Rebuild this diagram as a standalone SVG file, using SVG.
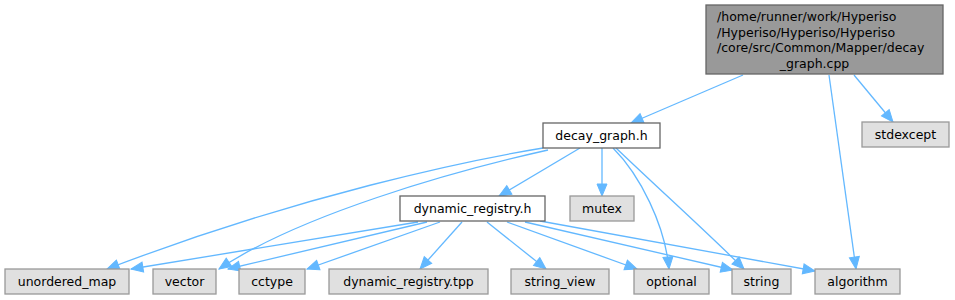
<svg xmlns="http://www.w3.org/2000/svg" width="955" height="300" viewBox="0 0 955 300">
<defs>
<style>
text{font-family:"DejaVu Sans","Liberation Sans",sans-serif;font-size:12.5px;fill:#000;text-anchor:middle}
text.l{text-anchor:start}
.main rect{fill:#999999;stroke:#666666;stroke-width:1.3}
.hdr rect{fill:#ffffff;stroke:#666666;stroke-width:1.3}
.sys rect{fill:#e0e0e0;stroke:#999999;stroke-width:1.3}
.edges path{fill:none;stroke:#63b8ff;stroke-width:1.3;marker-end:url(#ah)}
</style>
<marker id="ah" markerUnits="userSpaceOnUse" markerWidth="13" markerHeight="11" refX="12" refY="5" orient="auto" overflow="visible">
<path d="M0,0 L12,5 L0,10 Z" fill="#63b8ff" stroke="#63b8ff" stroke-width="1"/>
</marker>
</defs>
<rect width="955" height="300" fill="#ffffff"/>
<g class="edges" id="edges">
<path d="M743,75 L631,123"/>
<path d="M854,75 L893,122"/>
<path d="M829,75 L856,269"/>
<path d="M580,148 L499,196"/>
<path d="M602,148 L602,196"/>
<path d="M543,148 C470,160 300,195 107,269"/>
<path d="M548,150 C450,172 300,215 219,269"/>
<path d="M613,148 C640,175 665,225 669,269"/>
<path d="M616,148 C660,190 710,235 744,269"/>
<path d="M418,222 L131,269"/>
<path d="M427,222 L228,269"/>
<path d="M440,222 L307,269"/>
<path d="M462,222 L420,269"/>
<path d="M487,222 L546,269"/>
<path d="M507,222 L637,269"/>
<path d="M525,222 L733,270"/>
<path d="M540,221 L815,271"/>
</g>
<g id="node_decay_graph_cpp" class="main">
<rect x="706" y="5" width="237" height="69"/>
<text class="l" x="717" y="21">/home/runner/work/Hyperiso</text>
<text class="l" x="717" y="36.5">/Hyperiso/Hyperiso/Hyperiso</text>
<text class="l" x="717" y="52">/core/src/Common/Mapper/decay</text>
<text x="814.5" y="67.5">_graph.cpp</text>
</g>
<g id="node_decay_graph_h" class="hdr">
<rect x="543" y="123" width="117" height="25"/>
<text x="601.5" y="140">decay_graph.h</text>
</g>
<g id="node_stdexcept" class="sys">
<rect x="862" y="122" width="87" height="25"/>
<text x="905.5" y="139">stdexcept</text>
</g>
<g id="node_dynamic_registry_h" class="hdr">
<rect x="400" y="196" width="145" height="25"/>
<text x="472.5" y="213">dynamic_registry.h</text>
</g>
<g id="node_mutex" class="sys">
<rect x="570" y="196" width="64" height="25"/>
<text x="602" y="213">mutex</text>
</g>
<g id="node_unordered_map" class="sys">
<rect x="5" y="269" width="124" height="25"/>
<text x="67" y="286">unordered_map</text>
</g>
<g id="node_vector" class="sys">
<rect x="153" y="269" width="63" height="25"/>
<text x="184.5" y="286">vector</text>
</g>
<g id="node_cctype" class="sys">
<rect x="239" y="269" width="66" height="25"/>
<text x="272" y="286">cctype</text>
</g>
<g id="node_dynamic_registry_tpp" class="sys">
<rect x="329" y="269" width="159" height="25"/>
<text x="408.5" y="286">dynamic_registry.tpp</text>
</g>
<g id="node_string_view" class="sys">
<rect x="511" y="269" width="98" height="25"/>
<text x="560" y="286">string_view</text>
</g>
<g id="node_optional" class="sys">
<rect x="634" y="269" width="75" height="25"/>
<text x="671.5" y="286">optional</text>
</g>
<g id="node_string" class="sys">
<rect x="732" y="269" width="59" height="25"/>
<text x="761.5" y="286">string</text>
</g>
<g id="node_algorithm" class="sys">
<rect x="815" y="269" width="85" height="25"/>
<text x="857.5" y="286">algorithm</text>
</g>
</svg>
